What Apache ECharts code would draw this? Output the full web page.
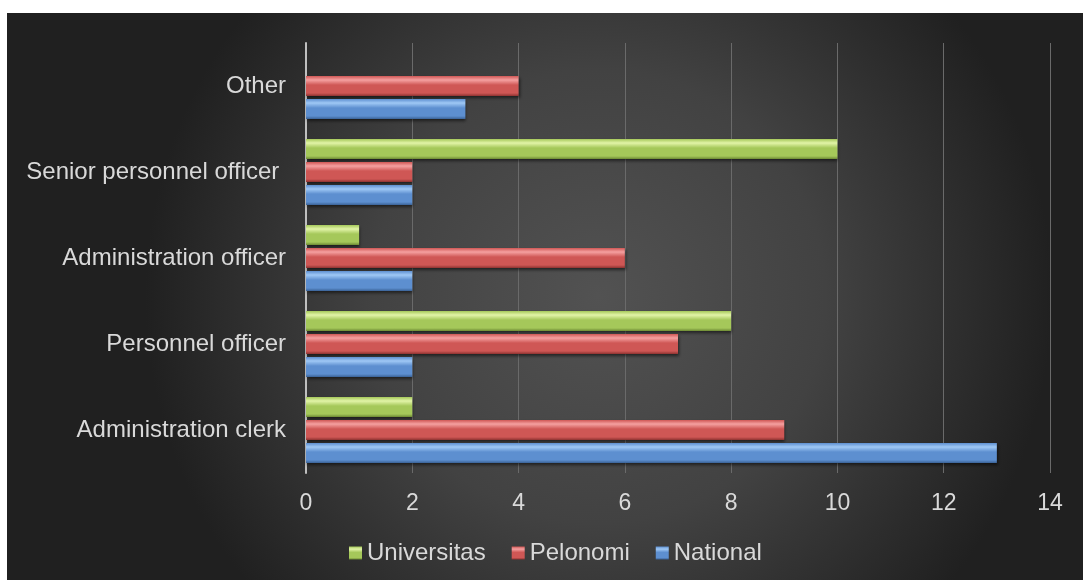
<!DOCTYPE html>
<html>
<head>
<meta charset="utf-8">
<script src="https://cdn.jsdelivr.net/npm/echarts@6/dist/echarts.min.js"></script>
<style>
  html, body { margin: 0; padding: 0; background: #fff; }
  #main {
    position: absolute;
    left: 7px;
    top: 13px;
    width: 1076px;
    height: 567px;
  }
</style>
</head>
<body>
<div id="main"></div>
<script>
// categories from bottom to top
const categories = ['Administration clerk', 'Personnel officer', 'Administration officer', 'Senior personnel officer ', 'Other']
const national = [13, 2, 2, 2, 3]
const pelonomi = [9, 7, 6, 2, 4]
const universitas = [2, 8, 1, 10, null]

const xTicks = { min: 0, max: 14, interval: 2 }

// bevel-like gradient for each bar colour
function bevel (light, mid, dark) {
  return new echarts.graphic.LinearGradient(0, 0, 0, 1, [
    { offset: 0, color: mid },
    { offset: 0.2, color: light },
    { offset: 0.45, color: mid },
    { offset: 0.85, color: mid },
    { offset: 1, color: dark }
  ])
}

function barSeries (name, data, light, mid, dark) {
  return {
    name: name,
    type: 'bar',
    data: data,
    barWidth: 20,
    barGap: '15%',
    itemStyle: {
      color: bevel(light, mid, dark),
      shadowColor: 'rgba(0,0,0,0.55)',
      shadowBlur: 3,
      shadowOffsetX: 1,
      shadowOffsetY: 2
    }
  }
}

const chart = echarts.init(document.getElementById('main'))
chart.setOption({
  animation: false,
  backgroundColor: new echarts.graphic.RadialGradient(0.55, 0.5, 0.8, [
    { offset: 0, color: '#525252' },
    { offset: 0.5, color: '#424242' },
    { offset: 1, color: '#202020' }
  ]),
  textStyle: { fontFamily: 'Liberation Sans, Arial, sans-serif' },
  grid: { left: 299, right: 33, top: 30, bottom: 107, containLabel: false },
  legend: {
    data: ['Universitas', 'Pelonomi', 'National'],
    bottom: 10,
    left: 337,
    itemWidth: 13,
    itemHeight: 13,
    itemGap: 26,
    icon: 'rect',
    textStyle: { color: '#d9d9d9', fontSize: 24 }
  },
  xAxis: {
    type: 'value',
    min: xTicks.min,
    max: xTicks.max,
    interval: xTicks.interval,
    axisLine: { show: false },
    axisTick: { show: false },
    axisLabel: { color: '#d9d9d9', fontSize: 23, margin: 19 },
    splitLine: { lineStyle: { color: '#6a6a6a', width: 1 } }
  },
  yAxis: {
    type: 'category',
    data: categories,
    axisLine: { show: true, lineStyle: { color: '#bfbfbf', width: 2 } },
    axisTick: { show: false },
    axisLabel: { color: '#d9d9d9', fontSize: 24, margin: 20 }
  },
  series: [
    barSeries('Universitas', universitas, '#e2f4a8', '#a5c85a', '#6d8a34'),
    barSeries('Pelonomi', pelonomi, '#f5a0a0', '#cf5755', '#8e3331'),
    barSeries('National', national, '#9fc8f5', '#5d8fd0', '#3a6296')
  ]
})
</script>
</body>
</html>
